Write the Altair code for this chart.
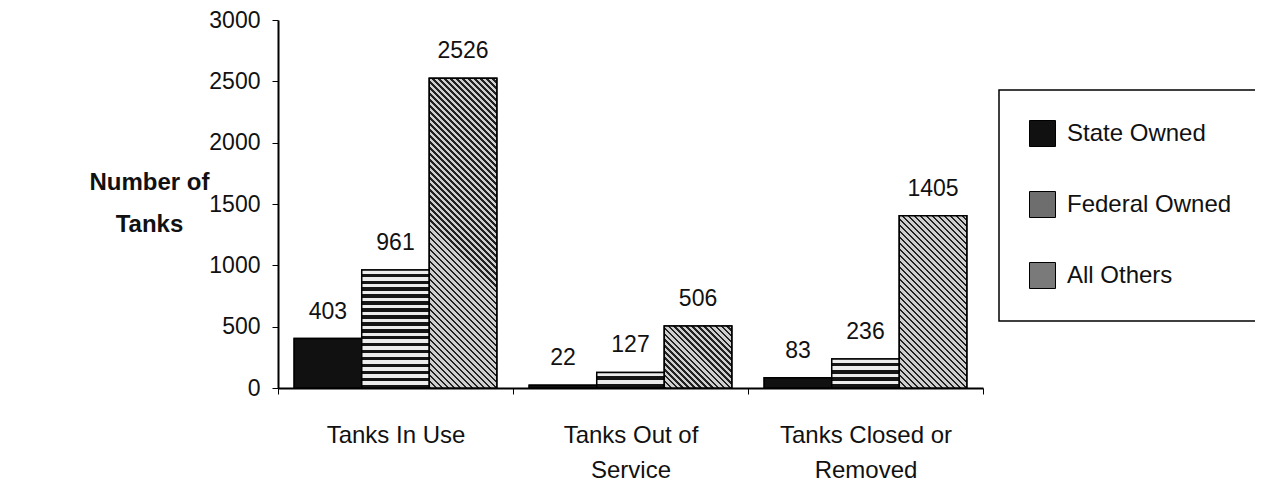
import json
import altair as alt
import pandas as pd

categories = ["Tanks In Use", "Tanks Out of Service", "Tanks Closed or Removed"]
category_lines = [["Tanks In Use"], ["Tanks Out of", "Service"], ["Tanks Closed or", "Removed"]]
series = ["State Owned", "Federal Owned", "All Others"]
state_owned = [403, 22, 83]
federal_owned = [961, 127, 236]
all_others = [2526, 506, 1405]
y_ticks = [0, 500, 1000, 1500, 2000, 2500, 3000]
fills = ["#111111", "#6e6e6e", "#7a7a7a"]

rows = []
for i, c in enumerate(categories):
    for s, vals in zip(series, [state_owned, federal_owned, all_others]):
        rows.append({"category": c, "series": s, "value": vals[i]})
df = pd.DataFrame(rows)

expr = "''"
for c, lines in reversed(list(zip(categories, category_lines))):
    expr = f"datum.value == {json.dumps(c)} ? {json.dumps(lines)} : ({expr})"

FONT = "Liberation Sans"
PLOT_W, PLOT_H, Y_MAX = 705, 368, 3000
OFFSET_PAD = 0.24
BAR_W = PLOT_W / len(categories) / (len(series) + 2 * OFFSET_PAD)


def stripe_stops(n, dark, light, dark_frac):
    stops = []
    for k in range(n):
        a, m, b = k / n, (k + 1 - dark_frac) / n, (k + 1) / n
        stops += [{"offset": a, "color": light}, {"offset": m, "color": light},
                  {"offset": m, "color": dark}, {"offset": b, "color": dark}]
    return stops


def horizontal_stripes(value):
    h = value * PLOT_H / Y_MAX
    n = max(2, round(h / 7))
    return {"gradient": "linear", "x1": 0, "y1": 0, "x2": 0, "y2": 1,
            "stops": stripe_stops(n, "#151515", "#ececec", 0.5)}


def diagonal_hatch(value):
    h = value * PLOT_H / Y_MAX
    w = BAR_W
    k = (h + w) / (w * w + h * h)
    n = max(2, round((h + w) / 6))
    return {"gradient": "linear", "x1": 1, "y1": 0, "x2": 1 - w * k, "y2": h * k,
            "stops": stripe_stops(n, "#222222", "#cfcfcf", 0.45)}


pattern = None
for i, c in enumerate(categories):
    for s, maker, vals in [("Federal Owned", horizontal_stripes, federal_owned),
                           ("All Others", diagonal_hatch, all_others)]:
        pred = (alt.datum.category == c) & (alt.datum.series == s)
        g = maker(vals[i])
        pattern = alt.when(pred).then(alt.value(g)) if pattern is None else pattern.when(pred).then(alt.value(g))
pattern = pattern.otherwise(alt.value("#111111"))

x = alt.X(
    "category:N",
    sort=categories,
    scale=alt.Scale(paddingInner=0, paddingOuter=0),
    axis=alt.Axis(
        title=None, labelAngle=0, labelExpr=expr, labelFontSize=24,
        labelLineHeight=35, labelPadding=29, labelLimit=400,
        labelColor="#111", tickBand="extent", tickSize=6, tickColor="black",
        domainColor="black", domainWidth=2,
    ),
)
xo = alt.XOffset("series:N", sort=series,
                 scale=alt.Scale(domain=series, paddingInner=0, paddingOuter=OFFSET_PAD))
y = alt.Y(
    "value:Q",
    scale=alt.Scale(domain=[0, Y_MAX]),
    axis=alt.Axis(
        values=y_ticks, format="d", grid=False, title=["Number of", "Tanks"],
        titleAngle=0, titleX=-129, titleY=150, titleAlign="center",
        titleBaseline="top", titleFontSize=24, titleFontWeight="bold",
        titleLineHeight=42, titleColor="#111",
        labelFontSize=23, labelPadding=12, labelColor="#111", tickSize=6,
        tickColor="black", domainColor="black", domainWidth=2,
    ),
)

bars = alt.Chart(df).mark_bar(stroke="black", strokeWidth=1.5).encode(
    x=x, xOffset=xo, y=y,
    fill=alt.Fill(
        "series:N", sort=series,
        scale=alt.Scale(domain=series, range=fills),
        legend=alt.Legend(
            title=None, orient="none", legendX=721, legendY=70,
            symbolType="square", symbolSize=676, symbolStrokeColor="black",
            symbolStrokeWidth=1, labelFontSize=24, labelOffset=11, labelColor="#111",
            rowPadding=40, padding=30, strokeColor="black", fillColor="white",
            labelLimit=400,
        ),
    ),
)

textured = alt.Chart(df).mark_bar(stroke="black", strokeWidth=1.5).encode(
    x=x, xOffset=xo, y=y, fill=pattern,
)

labels = alt.Chart(df).mark_text(
    dy=-27, baseline="middle", fontSize=23, font=FONT, color="#111"
).encode(x=x, xOffset=xo, y=y, text=alt.Text("value:Q"))

chart = (
    alt.layer(bars, textured, labels)
    .properties(
        width=PLOT_W, height=PLOT_H,
        autosize=alt.AutoSizeParams(type="none"),
        padding={"left": 270, "top": 12, "right": 272, "bottom": 94},
    )
    .configure(font=FONT)
    .configure_view(stroke=None)
    .configure_legend(strokeWidth=1.5)
)

chart.save("out.html", embed_options={"renderer": "svg", "actions": False})
